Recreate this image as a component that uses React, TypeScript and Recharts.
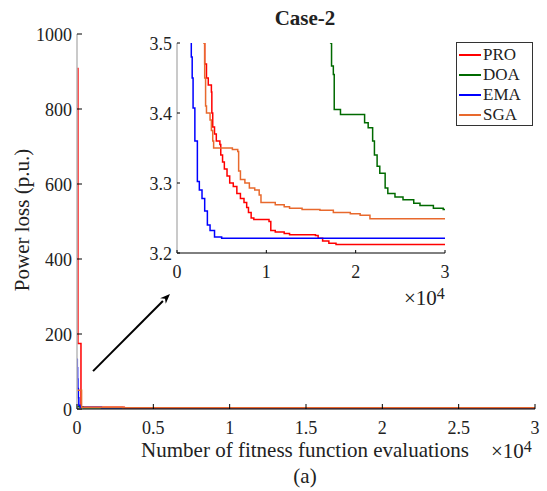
import { LineChart, Line, XAxis, YAxis, ReferenceLine } from "recharts";

const FONT = '"Liberation Serif", "Times New Roman", serif';
const TXT = "#222";

// x: number of fitness function evaluations, y: power loss (p.u.)
const proX = [0, 60, 260, 3100, 3300, 3500, 3850, 3900, 4000, 4200, 4400, 4800, 4900, 5100, 5300, 5600, 5900, 6300, 6700, 7100, 7500, 7800, 8000, 8300, 8600, 10300, 10500, 11000, 12000, 12600, 15500, 15800, 16300, 17000, 17800, 30000];
const proY = [908, 175, 5, 3.47, 3.45, 3.44, 3.43, 3.4, 3.38, 3.37, 3.36, 3.355, 3.34, 3.33, 3.32, 3.31, 3.3, 3.295, 3.285, 3.278, 3.272, 3.265, 3.258, 3.25, 3.248, 3.245, 3.232, 3.23, 3.228, 3.226, 3.225, 3.221, 3.217, 3.214, 3.212, 3.212];

const doaX = [0, 400, 17200, 17300, 17500, 17600, 18300, 21000, 21400, 21900, 22100, 22400, 22700, 23300, 23600, 24400, 25300, 26500, 27200, 28700, 29800, 30000];
const doaY = [6, 3.6, 3.5, 3.467, 3.455, 3.405, 3.398, 3.386, 3.379, 3.36, 3.34, 3.324, 3.314, 3.293, 3.285, 3.28, 3.276, 3.271, 3.268, 3.264, 3.262, 3.262];

const emaX = [0, 20, 40, 60, 90, 120, 200, 1600, 1700, 1800, 2000, 2280, 2500, 2800, 3100, 3400, 3700, 4200, 5000, 30000];
const emaY = [133, 110, 80, 55, 30, 10, 5, 3.48, 3.45, 3.407, 3.36, 3.302, 3.29, 3.278, 3.26, 3.24, 3.232, 3.223, 3.221, 3.221];

const sgaX = [0, 300, 3000, 3100, 3200, 3300, 3700, 3850, 4000, 4100, 5900, 6200, 6800, 6900, 7100, 7600, 8100, 8700, 9200, 9400, 11000, 12000, 12600, 14000, 16000, 17500, 19400, 20500, 21600, 30000];
const sgaY = [50, 5, 3.5, 3.45, 3.41, 3.4, 3.39, 3.375, 3.36, 3.35, 3.35, 3.348, 3.345, 3.317, 3.305, 3.3, 3.293, 3.29, 3.283, 3.272, 3.269, 3.266, 3.264, 3.262, 3.261, 3.258, 3.256, 3.254, 3.249, 3.249];

const mainXTicks = [0, 5000, 10000, 15000, 20000, 25000, 30000];
const mainYTicks = [0, 200, 400, 600, 800, 1000];
const insetXTicks = [0, 10000, 20000, 30000];
const insetYTicks = [3.2, 3.3, 3.4, 3.5];

// arrow annotation, in data units of the main axes
const arrowFrom = { x: 1050, y: 101 };
const arrowTo = { x: 6090, y: 307 };

const toPoints = (xs: number[], ys: number[]) => xs.map((x, i) => ({ x, y: ys[i] }));

const series = [
  { name: "PRO", color: "#ff0000", data: toPoints(proX, proY) },
  { name: "DOA", color: "#006a00", data: toPoints(doaX, doaY) },
  { name: "EMA", color: "#0000ff", data: toPoints(emaX, emaY) },
  { name: "SGA", color: "#e8692d", data: toPoints(sgaX, sgaY) },
];

const fmtX = (v: number) => String(v / 10000);

const makeTicks = (len: number) => ({
  bottom: (fmt?: (v: number) => string) => (p: any) => (
    <g>
      <line x1={p.x} y1={p.y} x2={p.x} y2={p.y - len} stroke="#000" />
      {fmt && (
        <text x={p.x} y={p.y + 25} textAnchor="middle" fontFamily={FONT} fontSize={18} fill={TXT}>
          {fmt(p.payload.value)}
        </text>
      )}
    </g>
  ),
  top: (p: any) => <line x1={p.x} y1={p.y} x2={p.x} y2={p.y + len} stroke="#000" />,
  left: (fmt?: (v: number) => string) => (p: any) => (
    <g>
      <line x1={p.x} y1={p.y} x2={p.x + len} y2={p.y} stroke="#000" />
      {fmt && (
        <text x={p.x - 5} y={p.y + 6.5} textAnchor="end" fontFamily={FONT} fontSize={18} fill={TXT}>
          {fmt(p.payload.value)}
        </text>
      )}
    </g>
  ),
  right: (p: any) => <line x1={p.x} y1={p.y} x2={p.x - len} y2={p.y} stroke="#000" />,
});

const mainT = makeTicks(5);
const insetT = makeTicks(3);

const Arrow = (p: any) => {
  const { x1, y1, x2, y2 } = p;
  const a = Math.atan2(y2 - y1, x2 - x1);
  const L = 10;
  const W = 4;
  const bx = x2 - L * Math.cos(a);
  const by = y2 - L * Math.sin(a);
  const nx = -Math.sin(a) * W;
  const ny = Math.cos(a) * W;
  return (
    <g>
      <line x1={x1} y1={y1} x2={bx} y2={by} stroke="#000" strokeWidth={2} />
      <polygon points={`${x2},${y2} ${bx + nx},${by + ny} ${bx + 3 * Math.cos(a)},${by + 3 * Math.sin(a)} ${bx - nx},${by - ny}`} fill="#000" />
    </g>
  );
};

const axisLine = { stroke: "#000", strokeWidth: 1 };
const leftLine = { stroke: "#b8b8b8", strokeWidth: 1.5 };

export default function App() {
  return (
    <div style={{ position: "fixed", left: 0, top: 0, width: 547, height: 491, background: "#fff", fontFamily: FONT, color: TXT }}>
      <LineChart width={547} height={491} margin={{ top: 34, right: 12, bottom: 0, left: 0 }}>
        <XAxis xAxisId="b" type="number" dataKey="x" domain={[0, 30000]} ticks={mainXTicks} interval={0}
          allowDataOverflow height={82} tickSize={0} tickMargin={0} axisLine={axisLine} tick={mainT.bottom(fmtX)} />
        <XAxis xAxisId="t" orientation="top" type="number" dataKey="x" domain={[0, 30000]} ticks={mainXTicks} interval={0}
          height={0} tickSize={0} tickMargin={0} axisLine={axisLine} tick={mainT.top} />
        <YAxis yAxisId="l" type="number" domain={[0, 1000]} ticks={mainYTicks} interval={0} allowDataOverflow
          width={77} tickSize={0} tickMargin={0} axisLine={leftLine} tick={mainT.left(String)} />
        <YAxis yAxisId="r" orientation="right" type="number" domain={[0, 1000]} ticks={mainYTicks} interval={0}
          width={0} tickSize={0} tickMargin={0} axisLine={axisLine} tick={mainT.right} />
        {series.map((s) => (
          <Line key={s.name} xAxisId="b" yAxisId="l" data={s.data} dataKey="y" type="stepAfter"
            stroke={s.color} strokeWidth={1.5} dot={false} isAnimationActive={false} />
        ))}
        <ReferenceLine xAxisId="b" yAxisId="l" segment={[arrowFrom, arrowTo]} shape={Arrow} />
      </LineChart>

      <div style={{ position: "absolute", left: 137, top: 31 }}>
        <LineChart width={313} height={267} margin={{ top: 12, right: 5, bottom: 0, left: 0 }}>
          <XAxis xAxisId="b" type="number" dataKey="x" domain={[0, 30000]} ticks={insetXTicks} interval={0}
            allowDataOverflow height={45} tickSize={0} tickMargin={0} axisLine={axisLine} tick={insetT.bottom(fmtX)} />
          <XAxis xAxisId="t" orientation="top" type="number" dataKey="x" domain={[0, 30000]} ticks={insetXTicks} interval={0}
            height={0} tickSize={0} tickMargin={0} axisLine={axisLine} tick={insetT.top} />
          <YAxis yAxisId="l" type="number" domain={[3.2, 3.5]} ticks={insetYTicks} interval={0} allowDataOverflow
            width={40} tickSize={0} tickMargin={0} axisLine={leftLine} tick={insetT.left((v) => v.toFixed(1))} />
          <YAxis yAxisId="r" orientation="right" type="number" domain={[3.2, 3.5]} ticks={insetYTicks} interval={0}
            width={0} tickSize={0} tickMargin={0} axisLine={axisLine} tick={insetT.right} />
          {series.map((s) => (
            <Line key={s.name} xAxisId="b" yAxisId="l" data={s.data} dataKey="y" type="stepAfter"
              stroke={s.color} strokeWidth={1.5} dot={false} isAnimationActive={false} />
          ))}
        </LineChart>
      </div>

      {/* legend */}
      <div style={{ position: "absolute", left: 456, top: 42, width: 77, height: 84, border: "1px solid #333", background: "#fff", boxSizing: "border-box" }}>
        {series.map((s, i) => (
          <div key={s.name} style={{ position: "absolute", left: 2, top: 2 + i * 20, height: 20, display: "flex", alignItems: "center", fontSize: 17, lineHeight: "20px" }}>
            <span style={{ display: "inline-block", width: 22, height: 2, background: s.color, marginRight: 2 }} />
            <span>{s.name}</span>
          </div>
        ))}
      </div>

      <div style={{ position: "absolute", left: 245, width: 120, top: 6, textAlign: "center", fontWeight: "bold", fontSize: 21 }}>Case-2</div>
      <div style={{ position: "absolute", left: 80, width: 450, top: 438, textAlign: "center", fontSize: 21 }}>
        Number of fitness function evaluations
      </div>
      <div style={{ position: "absolute", left: 255, width: 100, top: 464, textAlign: "center", fontSize: 21 }}>(a)</div>
      <div style={{ position: "absolute", left: 491, top: 438, fontSize: 21 }}>
        ×10<sup style={{ fontSize: 16, verticalAlign: 6 }}>4</sup>
      </div>
      <div style={{ position: "absolute", left: 404, top: 285, fontSize: 21 }}>
        ×10<sup style={{ fontSize: 16, verticalAlign: 6 }}>4</sup>
      </div>
      <div style={{ position: "absolute", left: 22, top: 220, transform: "translate(-50%, -50%) rotate(-90deg)", whiteSpace: "nowrap", fontSize: 21 }}>
        Power loss (p.u.)
      </div>
    </div>
  );
}
